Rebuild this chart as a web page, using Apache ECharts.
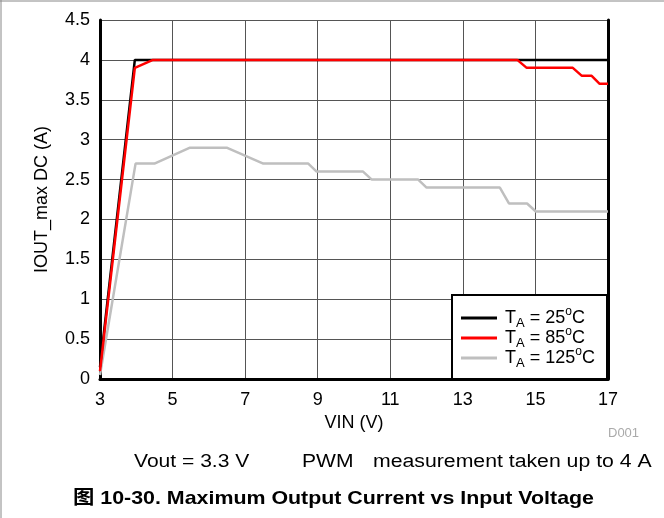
<!DOCTYPE html>
<html>
<head>
<meta charset="utf-8">
<script src="https://cdn.jsdelivr.net/npm/echarts@6/dist/echarts.min.js"></script>
<style>
html,body{margin:0;padding:0;background:#fff;}
#main{width:664px;height:518px;}
</style>
</head>
<body>
<div id="main"></div>
<script>
// ---- data ----
var vin25  = [3, 3.96, 17];
var iout25 = [0.15, 4.0, 4.0];

var vin85  = [3, 3.96, 4.46, 14.5, 14.76, 16.03, 16.28, 16.55, 16.77, 17];
var iout85 = [0.1, 3.9, 4.0, 4.0, 3.9, 3.9, 3.8, 3.8, 3.7, 3.7];

var vin125  = [3, 3.98, 4.5, 5.48, 6.49, 7.5, 8.74, 8.97, 10.25, 10.49, 11.77, 12.0, 14.02, 14.27, 14.77, 15.01, 17];
var iout125 = [0.05, 2.7, 2.7, 2.9, 2.9, 2.7, 2.7, 2.6, 2.6, 2.5, 2.5, 2.4, 2.4, 2.2, 2.2, 2.1, 2.1];

var xTicks = [3, 5, 7, 9, 11, 13, 15, 17];
var seriesNames = ['25', '85', '125'];

function pairs(xs, ys) { return xs.map(function (x, i) { return [x, ys[i]]; }); }

var FONT = '"Liberation Sans", Arial, "Noto Sans CJK SC", sans-serif';
var chart = echarts.init(document.getElementById('main'), null, {renderer: 'canvas'});

var gridColor = '#555';
var option = {
  animation: false,
  backgroundColor: '#fff',
  textStyle: {fontFamily: FONT},
  grid: {left: 100, right: 56, top: 20, bottom: 139, containLabel: false},
  xAxis: {
    type: 'value', min: 3, max: 17,
    name: 'VIN (V)', nameLocation: 'middle', nameGap: 35,
    nameTextStyle: {fontSize: 18, color: '#000', fontFamily: FONT},
    axisLine: {show: true, onZero: false, lineStyle: {color: '#000', width: 3}},
    axisTick: {show: false, customValues: xTicks},
    axisLabel: {customValues: xTicks, fontSize: 18, color: '#000', margin: 12, fontFamily: FONT},
    splitLine: {show: true, lineStyle: {color: gridColor, width: 1}}
  },
  yAxis: [{
    type: 'value', min: 0, max: 4.5, interval: 0.5,
    name: 'IOUT_max DC (A)', nameLocation: 'middle', nameGap: 49,
    nameTextStyle: {fontSize: 18, color: '#000', fontFamily: FONT},
    axisLine: {show: true, lineStyle: {color: '#000', width: 3}},
    axisTick: {show: false},
    axisLabel: {fontSize: 18, color: '#000', margin: 10, fontFamily: FONT},
    splitLine: {show: true, lineStyle: {color: gridColor, width: 1}}
  }, {
    type: 'value', min: 0, max: 4.5, interval: 0.5, position: 'right',
    axisLine: {show: true, lineStyle: {color: '#000', width: 3}},
    axisTick: {show: false}, axisLabel: {show: false}, splitLine: {show: false}
  }],
  legend: {
    orient: 'vertical', left: 451, top: 298,
    padding: [8, 10, 8, 10], itemGap: -4,
    itemWidth: 36, itemHeight: 3, icon: 'rect',
    z: 10,
    data: seriesNames,
    formatter: function (n) { return '{t|T}{sub|A}{n| = ' + n + '}{sup|o}{n|C}'; },
    textStyle: {
      fontFamily: FONT, fontSize: 18, color: '#000',
      rich: {
        t: {fontSize: 18, fontFamily: FONT, color: '#000', lineHeight: 24, verticalAlign: 'middle', padding: [0, 0, 0, 3]},
        n: {fontSize: 18, fontFamily: FONT, color: '#000', lineHeight: 24, verticalAlign: 'middle'},
        sub: {fontSize: 13, fontFamily: FONT, color: '#000', lineHeight: 13, verticalAlign: 'bottom'},
        sup: {fontSize: 12, fontFamily: FONT, color: '#000', lineHeight: 12, verticalAlign: 'top'}
      }
    }
  },
  series: [
    {name: '25', type: 'line', data: pairs(vin25, iout25), showSymbol: false, symbol: 'none',
     lineStyle: {color: '#000', width: 2.5}, itemStyle: {color: '#000'}, z: 3},
    {name: '85', type: 'line', data: pairs(vin85, iout85), showSymbol: false, symbol: 'none',
     lineStyle: {color: '#ff0000', width: 2.5}, itemStyle: {color: '#ff0000'}, z: 4},
    {name: '125', type: 'line', data: pairs(vin125, iout125), showSymbol: false, symbol: 'none',
     lineStyle: {color: '#bfbfbf', width: 2.5}, itemStyle: {color: '#bfbfbf'}, z: 2}
  ],
  graphic: [
    {type: 'rect', z: 8, shape: {x: 452, y: 295, width: 155, height: 84},
     style: {fill: '#fff', stroke: '#000', lineWidth: 2}},
    {type: 'line', shape: {x1: 1, y1: 0, x2: 1, y2: 518}, style: {stroke: '#888', lineWidth: 1}},
    {type: 'line', shape: {x1: 0, y1: 1, x2: 664, y2: 1}, style: {stroke: '#888', lineWidth: 1}},
    {type: 'text', x: 608, y: 433, style: {text: 'D001', fontSize: 13, fill: '#aaa', fontFamily: FONT, textVerticalAlign: 'middle'}},
    {type: 'text', x: 134, y: 462, scaleX: 1.17, style: {text: 'Vout = 3.3 V', fontSize: 18, fill: '#000', fontFamily: FONT, textVerticalAlign: 'middle'}},
    {type: 'text', x: 302, y: 462, scaleX: 1.17, style: {text: 'PWM', fontSize: 18, fill: '#000', fontFamily: FONT, textVerticalAlign: 'middle'}},
    {type: 'text', x: 373, y: 462, scaleX: 1.18, style: {text: 'measurement taken up to 4 A', fontSize: 18, fill: '#000', fontFamily: FONT, textVerticalAlign: 'middle'}},
    {type: 'text', x: 73, y: 499, scaleX: 1.125, style: {text: '图 10-30. Maximum Output Current vs Input Voltage', fontSize: 19, fontWeight: 'bold', fill: '#000', fontFamily: FONT, textVerticalAlign: 'middle'}}
  ]
};
chart.setOption(option);
</script>
</body>
</html>
